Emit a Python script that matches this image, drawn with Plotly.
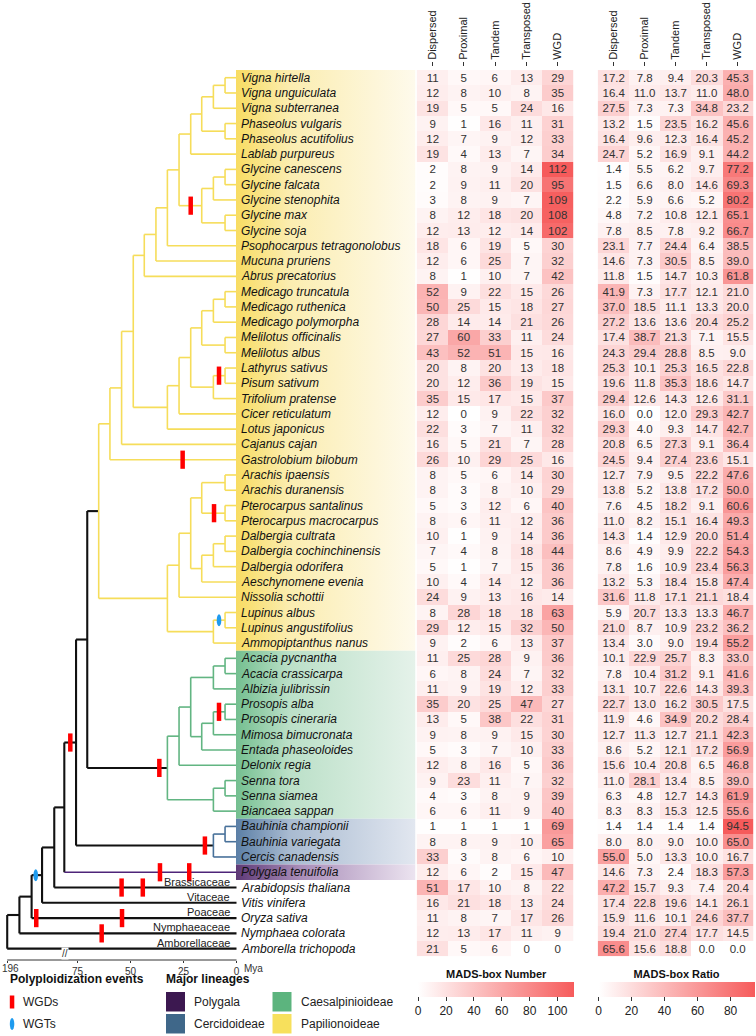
import plotly.graph_objects as go

FONT = "Liberation Sans, Arial, sans-serif"
W, H = 756, 1036

# ---------------- data ----------------
species = [
    "Vigna hirtella", "Vigna unguiculata", "Vigna subterranea", "Phaseolus vulgaris",
    "Phaseolus acutifolius", "Lablab purpureus", "Glycine canescens", "Glycine falcata",
    "Glycine stenophita", "Glycine max", "Glycine soja", "Psophocarpus tetragonolobus",
    "Mucuna pruriens", "Abrus precatorius", "Medicago truncatula", "Medicago ruthenica",
    "Medicago polymorpha", "Melilotus officinalis", "Melilotus albus", "Lathyrus sativus",
    "Pisum sativum", "Trifolium pratense", "Cicer reticulatum", "Lotus japonicus",
    "Cajanus cajan", "Gastrolobium bilobum", "Arachis ipaensis", "Arachis duranensis",
    "Pterocarpus santalinus", "Pterocarpus macrocarpus", "Dalbergia cultrata",
    "Dalbergia cochinchinensis", "Dalbergia odorifera", "Aeschynomene evenia",
    "Nissolia schottii", "Lupinus albus", "Lupinus angustifolius", "Ammopiptanthus nanus",
    "Acacia pycnantha", "Acacia crassicarpa", "Albizia julibrissin", "Prosopis alba",
    "Prosopis cineraria", "Mimosa bimucronata", "Entada phaseoloides", "Delonix regia",
    "Senna tora", "Senna siamea", "Biancaea sappan", "Bauhinia championii",
    "Bauhinia variegata", "Cercis canadensis", "Polygala tenuifolia",
    "Arabidopsis thaliana", "Vitis vinifera", "Oryza sativa", "Nymphaea colorata",
    "Amborella trichopoda",
]
lineage = (["Papilionoideae"] * 38 + ["Caesalpinioideae"] * 11 +
           ["Cercidoideae"] * 3 + ["Polygala"] * 1 + [""] * 5)

methods = ["Dispersed", "Proximal", "Tandem", "Transposed", "WGD"]

num_dispersed = [11, 12, 19, 9, 12, 19, 2, 2, 3, 8, 12, 18, 12, 8, 52, 50, 28, 27, 43, 20,
                 20, 35, 12, 22, 16, 26, 8, 8, 5, 8, 10, 7, 5, 10, 24, 8, 29, 9, 11, 6,
                 11, 35, 13, 9, 5, 12, 9, 4, 6, 1, 8, 33, 12, 51, 16, 11, 12, 21]
num_proximal = [5, 8, 5, 1, 7, 4, 8, 9, 8, 12, 13, 6, 6, 1, 9, 25, 14, 60, 52, 8,
                12, 15, 0, 3, 5, 10, 5, 3, 3, 6, 1, 4, 1, 4, 9, 28, 12, 2, 25, 8,
                9, 20, 5, 8, 3, 8, 23, 3, 6, 1, 8, 3, 6, 17, 21, 8, 13, 5]
num_tandem = [6, 10, 5, 16, 9, 13, 9, 11, 9, 18, 12, 19, 25, 10, 22, 15, 14, 33, 51, 20,
              36, 17, 9, 7, 21, 29, 6, 8, 12, 11, 9, 8, 7, 14, 13, 18, 15, 6, 28, 24,
              19, 25, 38, 9, 7, 16, 11, 8, 11, 1, 9, 8, 2, 10, 18, 7, 17, 6]
num_transposed = [13, 8, 24, 11, 12, 7, 14, 20, 7, 20, 14, 5, 7, 7, 15, 18, 21, 11, 15, 13,
                  19, 15, 22, 11, 7, 25, 14, 10, 6, 12, 14, 18, 15, 12, 16, 18, 32, 13, 9, 7,
                  12, 47, 22, 15, 10, 5, 7, 9, 9, 1, 10, 6, 15, 8, 13, 17, 11, 0]
num_wgd = [29, 35, 16, 31, 33, 34, 112, 95, 109, 108, 102, 30, 32, 42, 26, 27, 26, 24, 16, 18,
           15, 37, 32, 32, 28, 16, 30, 29, 40, 36, 36, 44, 36, 36, 14, 63, 50, 37, 36, 32,
           33, 27, 31, 30, 33, 36, 32, 39, 40, 69, 65, 10, 47, 22, 24, 26, 9, 0]

ratio_dispersed = [17.2, 16.4, 27.5, 13.2, 16.4, 24.7, 1.4, 1.5, 2.2, 4.8, 7.8, 23.1, 14.6, 11.8,
                   41.9, 37.0, 27.2, 17.4, 24.3, 25.3, 19.6, 29.4, 16.0, 29.3, 20.8, 24.5, 12.7,
                   13.8, 7.6, 11.0, 14.3, 8.6, 7.8, 13.2, 31.6, 5.9, 21.0, 13.4, 10.1, 7.8, 13.1,
                   22.7, 11.9, 12.7, 8.6, 15.6, 11.0, 6.3, 8.3, 1.4, 8.0, 55.0, 14.6, 47.2, 17.4,
                   15.9, 19.4, 65.6]
ratio_proximal = [7.8, 11.0, 7.3, 1.5, 9.6, 5.2, 5.5, 6.6, 5.9, 7.2, 8.5, 7.7, 7.3, 1.5, 7.3,
                  18.5, 13.6, 38.7, 29.4, 10.1, 11.8, 12.6, 0.0, 4.0, 6.5, 9.4, 7.9, 5.2, 4.5,
                  8.2, 1.4, 4.9, 1.6, 5.3, 11.8, 20.7, 8.7, 3.0, 22.9, 10.4, 10.7, 13.0, 4.6,
                  11.3, 5.2, 10.4, 28.1, 4.8, 8.3, 1.4, 8.0, 5.0, 7.3, 15.7, 22.8, 11.6, 21.0,
                  15.6]
ratio_tandem = [9.4, 13.7, 7.3, 23.5, 12.3, 16.9, 6.2, 8.0, 6.6, 10.8, 7.8, 24.4, 30.5, 14.7,
                17.7, 11.1, 13.6, 21.3, 28.8, 25.3, 35.3, 14.3, 12.0, 9.3, 27.3, 27.4, 9.5, 13.8,
                18.2, 15.1, 12.9, 9.9, 10.9, 18.4, 17.1, 13.3, 10.9, 9.0, 25.7, 31.2, 22.6,
                16.2, 34.9, 12.7, 12.1, 20.8, 13.4, 12.7, 15.3, 1.4, 9.0, 13.3, 2.4, 9.3, 19.6,
                10.1, 27.4, 18.8]
ratio_transposed = [20.3, 11.0, 34.8, 16.2, 16.4, 9.1, 9.7, 14.6, 5.2, 12.1, 9.2, 6.4, 8.5,
                    10.3, 12.1, 13.3, 20.4, 7.1, 8.5, 16.5, 18.6, 12.6, 29.3, 14.7, 9.1, 23.6,
                    22.2, 17.2, 9.1, 16.4, 20.0, 22.2, 23.4, 15.8, 21.1, 13.3, 23.2, 19.4, 8.3,
                    9.1, 14.3, 30.5, 20.2, 21.1, 17.2, 6.5, 8.5, 14.3, 12.5, 1.4, 10.0, 10.0,
                    18.3, 7.4, 14.1, 24.6, 17.7, 0.0]
ratio_wgd = [45.3, 48.0, 23.2, 45.6, 45.2, 44.2, 77.2, 69.3, 80.2, 65.1, 66.7, 38.5, 39.0, 61.8,
             21.0, 20.0, 25.2, 15.5, 9.0, 22.8, 14.7, 31.1, 42.7, 42.7, 36.4, 15.1, 47.6, 50.0,
             60.6, 49.3, 51.4, 54.3, 56.3, 47.4, 18.4, 46.7, 36.2, 55.2, 33.0, 41.6, 39.3, 17.5,
             28.4, 42.3, 56.9, 46.8, 39.0, 61.9, 55.6, 94.5, 65.0, 16.7, 57.3, 20.4, 26.1,
             37.7, 14.5, 0.0]

family_tips = ["Arabidopsis thaliana", "Vitis vinifera", "Oryza sativa",
               "Nymphaea colorata", "Amborella trichopoda"]
family_names = ["Brassicaceae", "Vitaceae", "Poaceae", "Nymphaeaceae", "Amborellaceae"]

axis_ticks_mya = [196, 75, 50, 25, 0]

lineage_names = ["Polygala", "Cercidoideae", "Caesalpinioideae", "Papilionoideae"]
lineage_colors = ["#3C1850", "#3F6789", "#5CB47E", "#F7E05C"]
branch_colors = {"Papilionoideae": "#F6DD5A", "Caesalpinioideae": "#62B582",
                 "Cercidoideae": "#48719A", "Polygala": "#4E2479", "": "#111111"}
band_scales = {
    "Papilionoideae": [[0, "#F8DC62"], [0.3, "#FBEDB0"], [1, "#FEFAEC"]],
    "Caesalpinioideae": [[0, "#74BF90"], [0.3, "#BBE0C8"], [1, "#E5F2EA"]],
    "Cercidoideae": [[0, "#5B7FA6"], [0.3, "#A9BBD1"], [1, "#E2E7F0"]],
    "Polygala": [[0, "#5E3976"], [0.35, "#A88CB8"], [1, "#ECE4F0"]],
}

# ---------------- tree (node ages in Mya) ----------------
Y, G, B, P, K = (branch_colors["Papilionoideae"], branch_colors["Caesalpinioideae"],
                 branch_colors["Cercidoideae"], branch_colors["Polygala"], branch_colors[""])


def N(age, *kids, **kw):
    d = dict(age=age, kids=list(kids))
    d.update(kw)
    return d


def T(name, **kw):
    d = dict(age=0, name=name, kids=[])
    d.update(kw)
    return d


vigna = N(16.4, N(10.9, N(5.4, "Vigna hirtella", "Vigna unguiculata"), "Vigna subterranea"),
          N(5.4, "Phaseolus vulgaris", "Phaseolus acutifolius"))
glyc = N(16.4, N(10.9, N(5.4, "Glycine canescens", "Glycine falcata"), "Glycine stenophita"),
         N(5.4, "Glycine max", "Glycine soja"), wgd=[21.6])
phas = N(43.5, N(38.0, N(32.6, N(27.1, N(21.6, vigna, "Lablab purpureus"), glyc),
                         "Psophocarpus tetragonolobus"), "Mucuna pruriens"),
         "Abrus precatorius")
medi = N(16.4, N(10.9, N(5.4, "Medicago truncatula", "Medicago ruthenica"), "Medicago polymorpha"),
         N(5.4, "Melilotus officinalis", "Melilotus albus"))
vic = N(10.9, N(5.4, "Lathyrus sativus", "Pisum sativum", wgd=[8.25]), "Trifolium pratense")
holo = N(32.6, N(27.1, N(21.6, medi, vic), "Cicer reticulatum"), "Lotus japonicus")
n11 = N(59.7, N(54.2, N(48.7, phas, holo), "Cajanus cajan"),
        T("Gastrolobium bilobum", wgd=[25.4]))
dal = N(21.6, N(16.4, N(5.4, "Arachis ipaensis", "Arachis duranensis"),
                N(5.4, "Pterocarpus santalinus", "Pterocarpus macrocarpus", wgd=[10.6])),
        N(16.4, N(10.9, N(5.4, "Dalbergia cultrata", "Dalbergia cochinchinensis"),
                  "Dalbergia odorifera"), "Aeschynomene evenia"))
gen = N(10.9, N(5.4, "Lupinus albus", "Lupinus angustifolius", wgt=[8.25]), "Ammopiptanthus nanus")
papi = N(65.0, n11, N(32.6, N(27.1, dal, "Nissolia schottii"), gen), color=Y, stem=K)
caes = N(32.6, N(27.1, N(21.6, N(10.9, N(5.4, "Acacia pycnantha", "Acacia crassicarpa"),
                                  "Albizia julibrissin"),
                         N(16.4, N(10.9, N(5.4, "Prosopis alba", "Prosopis cineraria", wgd=[8.25]),
                                   "Mimosa bimucronata"), "Entada phaseoloides")),
                 "Delonix regia"),
         N(10.9, N(5.4, "Senna tora", "Senna siamea"), "Biancaea sappan"),
         color=G, stem=K, wgd=[36.4])
cerc = N(10.9, N(5.4, "Bauhinia championii", "Bauhinia variegata"), "Cercis canadensis",
         color=B, stem=K, wgd=[14.9])
tree = N(196, N(175, N(154, N(136, N(115, N(97.7, N(77.5, N(70.4, papi, caes), cerc, wgd=[87.4]),
                                              T("Polygala tenuifolia", color=P, wgd=[36.1, 22.3])),
                                        T("Arabidopsis thaliana", wgd=[54.2, 44.2])),
                                  "Vitis vinifera", wgt=[146.9]),
                            T("Oryza sativa", wgd=[146.0, 54.0])),
                      T("Nymphaea colorata", wgd=[63.6])),
            "Amborella trichopoda", color=K)

# ---------------- geometry (layout, pixels) ----------------
ROW0, PITCH = 77.7, 15.28          # first row centre, row pitch (px)
X0, PXMY = 236.5, 2.12             # tree tip x (px), px per Mya
BREAK, COMP = 75, 0.274            # axis compression beyond 75 Mya
TREE_R = 240.0


def to_axis(age):
    return age if age <= BREAK else BREAK + (age - BREAK) * COMP


def prep(node, color):
    if isinstance(node, str):
        node = T(node)
    node["col"] = node.get("color", color)
    node["kids"] = [prep(k, node["col"]) for k in node["kids"]]
    if node["kids"]:
        node["y"] = (node["kids"][0]["y"] + node["kids"][-1]["y"]) / 2
    else:
        node["y"] = species.index(node["name"])
    node["a"] = to_axis(node["age"])
    return node


tree = prep(tree, K)
segs = {}
wgd_x, wgd_y, wgt_pts = [], [], []


def add(col, x0, y0, x1, y1):
    xs, ys = segs.setdefault(col, ([], []))
    xs += [x0, x1, None]
    ys += [y0, y1, None]


def walk(node):
    kids = node["kids"]
    if not kids:
        return
    add(node["col"], node["a"], kids[0]["y"], node["a"], kids[-1]["y"])
    for k in kids:
        add(k.get("stem", k["col"]), node["a"], k["y"], k["a"], k["y"])
        for age in k.get("wgd", []):
            wgd_x.append(to_axis(age))
            wgd_y.append(k["y"])
        for age in k.get("wgt", []):
            wgt_pts.append((to_axis(age), k["y"]))
        walk(k)


walk(tree)

fig = go.Figure()

order = [K, P, B, G, Y]
for col in order:
    if col in segs:
        xs, ys = segs[col]
        fig.add_trace(go.Scatter(x=xs, y=ys, mode="lines", xaxis="x", yaxis="y",
                                 line=dict(color=col, width=2.1 if col == K else 1.6),
                                 hoverinfo="skip", showlegend=False))

fig.add_trace(go.Scatter(x=wgd_x, y=wgd_y, mode="markers", xaxis="x", yaxis="y",
                         marker=dict(symbol="line-ns", size=13,
                                     line=dict(color="#FF0000", width=4.5)),
                         cliponaxis=False, hoverinfo="skip", showlegend=False))

shapes = []
ew, eh = 2.3 / PXMY, 6.0 / PITCH
for (ax, ay) in wgt_pts:
    shapes.append(dict(type="circle", xref="x", yref="y", x0=ax - ew, x1=ax + ew,
                       y0=ay - eh, y1=ay + eh, fillcolor="#1E9BEF", line=dict(width=0)))

# ---------------- lineage bands + species names ----------------
runs = []
for i, lin in enumerate(lineage):
    if lin and (not runs or runs[-1][0] != lin or runs[-1][2] != i - 1):
        runs.append([lin, i, i])
    elif lin:
        runs[-1][2] = i
for lin, r0, r1 in runs:
    fig.add_trace(go.Scatter(x=[0, 1, 1, 0, 0], y=[r0 - 0.5, r0 - 0.5, r1 + 0.5, r1 + 0.5, r0 - 0.5],
                             mode="none", fill="toself", xaxis="x4", yaxis="y",
                             fillgradient=dict(type="horizontal", colorscale=band_scales[lin]),
                             hoverinfo="skip", showlegend=False))

annotations = []
for i, name in enumerate(species):
    annotations.append(dict(x=0.018, y=i, xref="x4", yref="y", xanchor="left", yanchor="middle",
                            text="<i>%s</i>" % name, showarrow=False,
                            font=dict(size=12, color="#111", family=FONT)))

for tip, fam in zip(family_tips, family_names):
    annotations.append(dict(x=0, y=species.index(tip), xref="x", yref="y", xanchor="right",
                            yanchor="middle", xshift=-5, yshift=6, text=fam, showarrow=False,
                            font=dict(size=11, color="#222", family=FONT)))

# ---------------- heatmaps ----------------
z_num = [list(r) for r in zip(num_dispersed, num_proximal, num_tandem, num_transposed, num_wgd)]
z_rat = [list(r) for r in zip(ratio_dispersed, ratio_proximal, ratio_tandem, ratio_transposed, ratio_wgd)]
REDS = [[0, "#FFFFFF"], [1, "#F65B5B"]]
CB_Y = 1 - 970 / H


def cbar(title, cx, tickvals):
    return dict(orientation="h", x=cx, xanchor="center", y=CB_Y, yanchor="top",
                xref="container", yref="container",
                len=156, lenmode="pixels", thickness=15, thicknessmode="pixels",
                outlinewidth=0, tickvals=tickvals, ticks="outside", ticklen=4,
                tickcolor="#333", tickfont=dict(size=12, color="#222", family=FONT),
                title=dict(text="<b>%s</b>" % title, side="top",
                           font=dict(size=11, color="#111", family=FONT)),
                xpad=0, ypad=0)


fig.add_trace(go.Heatmap(z=z_num, x=list(range(5)), y=list(range(len(species))),
                         xaxis="x2", yaxis="y", colorscale=REDS, zmin=0,
                         zmax=max(max(r) for r in z_num), texttemplate="%{z}",
                         textfont=dict(size=11.5, color="#333", family=FONT),
                         colorbar=cbar("MADS-box Number", 496.2 / W, [0, 20, 40, 60, 80, 100]),
                         hoverinfo="skip"))
fig.add_trace(go.Heatmap(z=z_rat, x=list(range(5)), y=list(range(len(species))),
                         xaxis="x3", yaxis="y", colorscale=REDS, zmin=0,
                         zmax=max(max(r) for r in z_rat), texttemplate="%{z:.1f}",
                         textfont=dict(size=11.5, color="#333", family=FONT),
                         colorbar=cbar("MADS-box Ratio", 676.5 / W, [0, 20, 40, 60, 80]),
                         hoverinfo="skip"))

# ---------------- axes ----------------
tree_axis_y = 1 - 960 / H
head_axis_y = 1 - 66 / H
a_left = X0 / PXMY
a_right = (X0 - TREE_R) / PXMY
tick_text = ["" if v == axis_ticks_mya[0] else str(v) for v in axis_ticks_mya]

fig.update_layout(
    width=W, height=H, margin=dict(l=0, r=0, t=0, b=0, pad=0, autoexpand=False),
    paper_bgcolor="white", plot_bgcolor="rgba(0,0,0,0)", showlegend=False,
    font=dict(family=FONT, color="#222"),
    yaxis=dict(domain=[0, 1], range=[(H - ROW0) / PITCH, -ROW0 / PITCH], visible=False,
               automargin=False),
    xaxis=dict(domain=[0, TREE_R / W], range=[a_left, a_right], anchor="free",
               position=tree_axis_y, showgrid=False, zeroline=False, showline=False,
               automargin=False, ticklabeloverflow="allow",
               tickvals=[to_axis(v) for v in axis_ticks_mya],
               ticktext=tick_text, ticks="outside", ticklen=2,
               tickcolor="#333", tickfont=dict(size=10, color="#333")),
    xaxis2=dict(domain=[416.7 / W, 573.3 / W], range=[-0.5, 4.5], anchor="free",
                position=head_axis_y, side="top", tickvals=list(range(5)), ticktext=methods,
                tickangle=-90, ticks="outside", ticklen=4, tickcolor="#333", automargin=False,
                tickfont=dict(size=11, color="#222"), showgrid=False, zeroline=False),
    xaxis3=dict(domain=[597.7 / W, 753.3 / W], range=[-0.5, 4.5], anchor="free",
                position=head_axis_y, side="top", tickvals=list(range(5)), ticktext=methods,
                tickangle=-90, ticks="outside", ticklen=4, tickcolor="#333", automargin=False,
                tickfont=dict(size=11, color="#222"), showgrid=False, zeroline=False),
    xaxis4=dict(domain=[236 / W, 415.5 / W], range=[0, 1], anchor="y", visible=False,
                automargin=False),
)

# tree time axis line + break + unit + oldest tick label (kept inside the page)
shapes.append(dict(type="line", xref="x", yref="paper", x0=to_axis(196), x1=0,
                   y0=tree_axis_y, y1=tree_axis_y, line=dict(color="#333", width=1)))
annotations.append(dict(x=(X0 - 65) / PXMY, y=tree_axis_y, xref="x", yref="paper", text="//",
                        showarrow=False, bgcolor="white", borderpad=0,
                        font=dict(size=10, color="#333")))
annotations.append(dict(x=0, y=tree_axis_y, xref="x", yref="paper", text="Mya", xanchor="left",
                        yanchor="top", xshift=5, yshift=-1, showarrow=False,
                        font=dict(size=10, color="#333")))
annotations.append(dict(x=0, y=tree_axis_y, xref="paper", yref="paper",
                        text=str(axis_ticks_mya[0]), xanchor="left", yanchor="top",
                        xshift=0, yshift=-1, showarrow=False, font=dict(size=10, color="#333")))


# ---------------- legend (bottom left) ----------------
def px(x):
    return x / W


def py(y):
    return 1 - y / H


annotations += [
    dict(x=px(8), y=py(979), xref="paper", yref="paper", xanchor="left", yanchor="middle",
         text="<b>Polyploidization events</b>", showarrow=False, font=dict(size=12, color="#111")),
    dict(x=px(164), y=py(979), xref="paper", yref="paper", xanchor="left", yanchor="middle",
         text="<b>Major lineages</b>", showarrow=False, font=dict(size=12, color="#111")),
    dict(x=px(21), y=py(1002), xref="paper", yref="paper", xanchor="left", yanchor="middle",
         text="WGDs", showarrow=False, font=dict(size=12, color="#222")),
    dict(x=px(21), y=py(1024), xref="paper", yref="paper", xanchor="left", yanchor="middle",
         text="WGTs", showarrow=False, font=dict(size=12, color="#222")),
]
shapes.append(dict(type="rect", xref="paper", yref="paper", x0=px(9.8), x1=px(14.3),
                   y0=py(995.5), y1=py(1008.5), fillcolor="#FF0000", line=dict(width=0)))
shapes.append(dict(type="circle", xref="paper", yref="paper", x0=px(9.8), x1=px(14.3),
                   y0=py(1018), y1=py(1030), fillcolor="#1E9BEF", line=dict(width=0)))

box_pos = [(166, 992), (166, 1014), (272.5, 992), (272.5, 1014)]
for name, col, (bx, by) in zip(lineage_names, lineage_colors, box_pos):
    shapes.append(dict(type="rect", xref="paper", yref="paper", x0=px(bx), x1=px(bx + 19),
                       y0=py(by), y1=py(by + 19.5), fillcolor=col, line=dict(width=0)))
    annotations.append(dict(x=px(bx + 26), y=py(by + 10), xref="paper", yref="paper",
                            xanchor="left", yanchor="middle", text=name, showarrow=False,
                            font=dict(size=12, color="#222")))

fig.update_layout(shapes=shapes, annotations=annotations)
fig.write_html("out.html")
